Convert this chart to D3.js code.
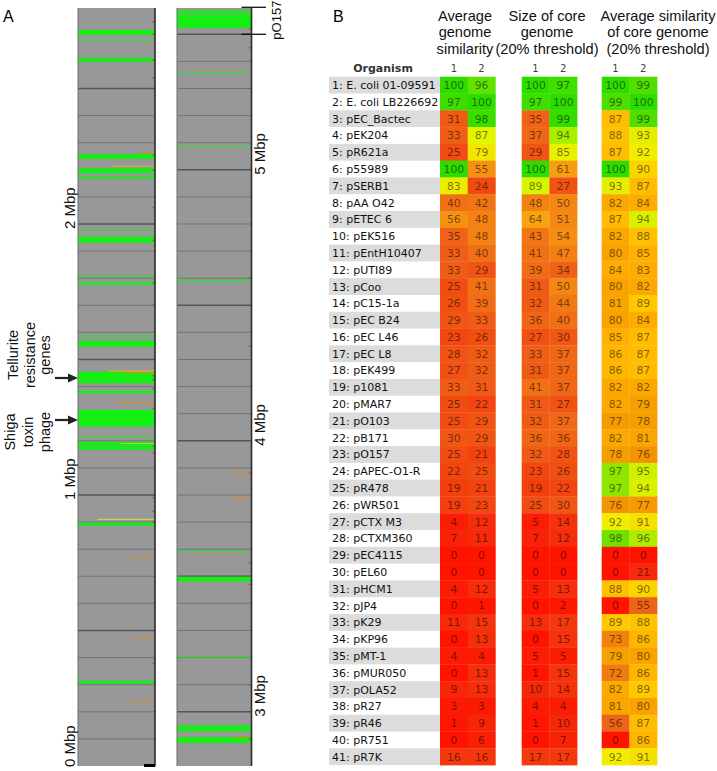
<!DOCTYPE html>
<html><head><meta charset="utf-8">
<script src="https://cdn.jsdelivr.net/npm/d3@7"></script>
<style>html,body{margin:0;padding:0;background:#fff;}</style>
</head><body>
<div id="chart"></div>
<script>
// ---------- DATA ----------
const organisms = ["1: E. coli 01-09591","2: E. coli LB226692","3: pEC_Bactec","4: pEK204","5: pR621a","6: p55989","7: pSERB1","8: pAA O42","9: pETEC 6","10: pEK516","11: pEntH10407","12: pUTI89","13: pCoo","14: pC15-1a","15: pEC B24","16: pEC L46","17: pEC L8","18: pEK499","19: p1081","20: pMAR7","21: pO103","22: pB171","23: pO157","24: pAPEC-O1-R","25: pR478","26: pWR501","27: pCTX M3","28: pCTXM360","29: pEC4115","30: pEL60","31: pHCM1","32: pJP4","33: pK29","34: pKP96","35: pMT-1","36: pMUR050","37: pOLA52","38: pR27","39: pR46","40: pR751","41: pR7K"];
const genomeSim1 = [100,97,31,33,25,100,83,40,56,35,33,33,25,26,29,23,28,27,33,25,25,30,25,22,19,19,4,7,0,0,4,0,11,0,4,0,9,3,1,0,16];
const genomeSim2 = [96,100,98,87,79,55,24,42,48,48,40,29,41,39,33,26,32,32,31,22,29,29,21,25,21,23,12,11,0,0,12,1,15,13,4,13,13,3,9,6,16];
const coreSize1 = [100,97,35,37,29,100,89,48,64,43,41,39,31,32,36,27,33,31,41,31,32,36,32,23,19,25,5,7,0,0,5,0,13,0,5,1,10,4,1,0,17];
const coreSize2 = [97,100,99,94,85,61,27,50,51,54,47,34,50,44,40,30,37,37,37,27,37,36,28,26,22,30,14,12,0,0,13,2,17,15,5,15,14,4,10,7,17];
const coreSim1 = [100,99,87,88,87,100,93,82,87,82,80,84,80,81,80,85,86,86,82,82,77,82,78,97,97,76,92,98,0,0,88,0,89,73,79,72,82,81,56,0,92];
const coreSim2 = [99,100,99,93,92,90,87,84,94,88,85,83,82,89,84,87,87,87,82,79,78,81,76,95,94,77,91,96,0,21,90,55,88,86,80,86,89,80,87,86,91];
const columnLabels = ["1","2"];
const groupTitles = [["Average","genome","similarity"],["Size of core","genome","(20% threshold)"],["Average similarity","of core genome","(20% threshold)"]];

// Panel A: genome positions in Mbp
const mbpTicks = [0,1,2,3,4,5];
// green bands [start Mbp, end Mbp, opacity]
const greenBands = [
 [2.697,2.716,1],[2.674,2.678,0.6],[2.598,2.607,1],[2.607,2.616,0.6],[2.240,2.258,1],[2.186,2.207,0.9],[2.166,2.177,0.7],
 [1.976,1.980,0.6],[1.931,1.953,1],[1.806,1.810,0.6],[1.775,1.787,0.8],[1.583,1.590,0.6],[1.547,1.569,1],
 [1.412,1.455,1],[1.375,1.387,0.8],[1.252,1.314,1],[1.213,1.217,0.6],[1.166,1.197,0.9],[0.886,0.898,0.9],[0.303,0.315,0.9],
 [5.568,5.590,0.75],[5.523,5.568,1],[5.356,5.360,0.6],[5.083,5.087,0.6],[4.589,4.594,0.8],[3.592,3.596,0.6],
 [3.480,3.499,0.9],[3.201,3.205,0.7],[2.927,2.951,0.9],[2.885,2.907,1]
];
// partial coloured lines [Mbp, start fraction of width, colour]
const partialLines = [
 [2.214,0.44,"#d9b23c"],[2.262,0.8,"#d08a30"],[1.458,0.4,"#e8a828"],[1.450,0.6,"#d89030"],[1.341,0.5,"#d09030"],
 [1.190,0.55,"#c8c040"],[0.910,0.25,"#cad048"],[0.772,0.65,"#d08840"],[0.472,0.71,"#d08840"],[0.241,0.65,"#d08840"],
 [3.877,0.73,"#d88a3a"],[3.789,0.73,"#d88a3a"],[2.908,0.75,"#d08a30"]
];
// small red marks at the right edge (Mbp)
const redMarks = [2.745,2.700,2.604,2.540,2.254,2.200,2.060,1.940,1.782,1.700,1.440,1.425,1.392,1.320,1.180,1.155,0.990,0.940,0.900,0.500,0.380,
 5.520,5.450,5.300,4.600,4.350,3.880,3.550,3.470,3.100,2.900];

// ---------- DRAW ----------
const W = 717, H = 771;
const svg = d3.select("#chart").append("svg").attr("width", W).attr("height", H)
  .style("font-family", "'Liberation Sans', Arial, sans-serif");

// ===== Panel A =====
svg.append("text").attr("x", 3).attr("y", 21.7).attr("font-size", 16).text("A");

const strips = [
  {x0: 78, x1: 155, lo: 0, hi: 2.797, labelX: 75},
  {x0: 177, x1: 251.5, lo: 2.8, hi: 5.597, labelX: 265}
];
strips.forEach(s => {
  s.y = d3.scaleLinear().domain([s.lo, s.hi]).range([766, 8]);
  const g = svg.append("g");
  const w = s.x1 - s.x0;
  g.append("rect").attr("x", s.x0).attr("y", s.y(s.hi)).attr("width", w)
    .attr("height", s.y(s.lo) - s.y(s.hi)).attr("fill", "#989898");
  const grid = d3.range(Math.ceil(s.lo * 10 + 0.001), Math.floor(s.hi * 10) + 1).map(d => d / 10);
  const major = d => Math.abs(d * 2 - Math.round(d * 2)) < 1e-6;
  g.selectAll("line.grid").data(grid).join("line")
    .attr("x1", s.x0).attr("x2", s.x1)
    .attr("y1", d => s.y(d)).attr("y2", d => s.y(d))
    .attr("stroke", d => major(d) ? "#555" : "#747474")
    .attr("stroke-width", d => major(d) ? 1.6 : 1);
  const inS = v => v >= s.lo && v <= s.hi;
  g.selectAll("rect.band").data(greenBands.filter(b => inS(b[0]))).join("rect")
    .attr("x", s.x0).attr("width", w)
    .attr("y", d => s.y(d[1])).attr("height", d => Math.max(1.5, s.y(d[0]) - s.y(d[1])))
    .attr("fill", "#14f014").attr("fill-opacity", d => d[2]);
  g.selectAll("line.part").data(partialLines.filter(b => inS(b[0]))).join("line")
    .attr("x1", d => s.x0 + d[1] * w).attr("x2", s.x1)
    .attr("y1", d => s.y(d[0])).attr("y2", d => s.y(d[0]))
    .attr("stroke", d => d[2]).attr("stroke-width", 1.2);
  g.selectAll("rect.red").data(redMarks.filter(inS)).join("rect")
    .attr("x", s.x1 - 3).attr("width", 3).attr("y", d => s.y(d) - 0.6).attr("height", 1.2)
    .attr("fill", "#b83a30").attr("fill-opacity", 0.7);
  g.append("line").attr("x1", s.x0).attr("x2", s.x0).attr("y1", 8).attr("y2", 766).attr("stroke", "#6a6a6a").attr("stroke-width", 1);
  g.append("line").attr("x1", s.x1).attr("x2", s.x1).attr("y1", 8).attr("y2", 766).attr("stroke", "#2a2a2a").attr("stroke-width", 1.6);
  g.selectAll("text.mbp").data(mbpTicks.filter(t => t >= s.lo - 0.01 && t < s.hi)).join("text")
    .attr("transform", d => `translate(${s.labelX},${Math.min(767, s.y(d) + 5)}) rotate(-90)`)
    .attr("font-size", 15).attr("fill", "#111").text(d => d + " Mbp");
});
svg.append("rect").attr("x", 144).attr("y", 764).attr("width", 11).attr("height", 3).attr("fill", "#000");
const rs = strips[1];
[5.597, 5.5].forEach(v => svg.append("line").attr("x1", 241.5).attr("x2", 266)
  .attr("y1", rs.y(v) - (v > 5.55 ? 0.7 : 0)).attr("y2", rs.y(v) - (v > 5.55 ? 0.7 : 0))
  .attr("stroke", "#111").attr("stroke-width", 1.3));
svg.append("text").attr("transform", `translate(281,${(rs.y(5.597) + rs.y(5.5)) / 2 - 1}) rotate(-90)`)
  .attr("text-anchor", "middle").attr("font-size", 13).attr("fill", "#111").text("pO157");

function annot(lines, xs, cy, arrowY) {
  lines.forEach((t, i) => svg.append("text")
    .attr("transform", `translate(${xs[i]},${cy}) rotate(-90)`)
    .attr("text-anchor", "middle").attr("font-size", 14.5).attr("fill", "#111").text(t));
  svg.append("line").attr("x1", 55).attr("x2", 70).attr("y1", arrowY).attr("y2", arrowY)
    .attr("stroke", "#222").attr("stroke-width", 2.2);
  svg.append("path").attr("d", `M68,${arrowY - 4.5}L78,${arrowY}L68,${arrowY + 4.5}Z`).attr("fill", "#222");
}
annot(["Tellurite", "resistance", "genes"], [18, 35, 50], 355, 378);
annot(["Shiga", "toxin", "phage"], [15, 33, 50], 432, 420);

// ===== Panel B =====
svg.append("text").attr("x", 333).attr("y", 21.7).attr("font-size", 16).text("B");

const rowY = d3.scaleBand().domain(organisms).range([76.7, 765.1]);
const bh = rowY.bandwidth();

const scaleA = d3.scaleLinear()
  .domain([0, 10, 22, 32, 45, 55, 64, 79, 88, 94, 97, 100])
  .range(["#ff1400","#f6280a","#f2450f","#ef5c16","#f27c14","#f59012","#f7a410","#f2e600","#e2f600","#a8ee00","#3ede00","#2edc00"]);
const scaleC = d3.scaleLinear()
  .domain([0, 21, 55, 72, 77, 85, 89, 92, 95, 98, 100])
  .range(["#ff1400","#f52a0c","#ec6418","#f07c10","#f59a00","#ffb000","#ffc800","#f2ec00","#d0f000","#70e000","#2edc00"]);

const groups = [
  {x0: 440, title: groupTitles[0], titleX: 465, cols: [genomeSim1, genomeSim2], color: scaleA},
  {x0: 521.7, title: groupTitles[1], titleX: 547, cols: [coreSize1, coreSize2], color: scaleA},
  {x0: 601.7, title: groupTitles[2], titleX: 658, cols: [coreSim1, coreSim2], color: scaleC}
];

svg.selectAll("rect.lab").data(organisms.filter((d, i) => i % 2 === 0)).join("rect")
  .attr("x", 329).attr("width", 111).attr("y", d => rowY(d)).attr("height", bh).attr("fill", "#dcdcdc");
svg.selectAll("text.lab").data(organisms).join("text")
  .attr("x", 332).attr("y", d => rowY(d) + bh / 2).attr("dy", "0.36em")
  .attr("font-family", "'DejaVu Sans', Verdana, sans-serif").attr("font-size", 11).attr("fill", "#111")
  .text(d => d);
svg.append("text").attr("x", 383).attr("y", 72).attr("text-anchor", "middle")
  .attr("font-family", "'DejaVu Sans', Verdana, sans-serif").attr("font-weight", "bold")
  .attr("font-size", 11).attr("fill", "#333").text("Organism");

groups.forEach(gr => {
  const colX = d3.scaleBand().domain(columnLabels).range([gr.x0, gr.x0 + 55.4]);
  const g = svg.append("g");
  gr.title.forEach((t, i) => g.append("text").attr("x", gr.titleX).attr("y", 21 + i * 16.3)
    .attr("text-anchor", "middle").attr("font-size", 14.6).attr("fill", "#111").text(t));
  g.selectAll("text.ch").data(columnLabels).join("text")
    .attr("x", d => colX(d) + colX.bandwidth() / 2).attr("y", 72).attr("text-anchor", "middle")
    .attr("font-family", "'DejaVu Sans', Verdana, sans-serif").attr("font-size", 10).attr("fill", "#444").text(d => d);
  gr.cols.forEach((vals, ci) => {
    const cl = columnLabels[ci];
    const cells = organisms.map((o, i) => ({o, v: vals[i]}));
    g.selectAll(null).data(cells).join("rect")
      .attr("x", colX(cl)).attr("width", colX.bandwidth() + 0.3)
      .attr("y", d => rowY(d.o)).attr("height", bh + 0.3)
      .attr("fill", d => gr.color(d.v));
    g.selectAll(null).data(cells).join("text")
      .attr("x", colX(cl) + colX.bandwidth() / 2).attr("y", d => rowY(d.o) + bh / 2).attr("dy", "0.36em")
      .attr("text-anchor", "middle").attr("font-family", "'DejaVu Sans', Verdana, sans-serif")
      .attr("font-size", 10.8).attr("fill", "#000").attr("fill-opacity", 0.52).text(d => d.v);
  });
});
</script>
</body></html>
